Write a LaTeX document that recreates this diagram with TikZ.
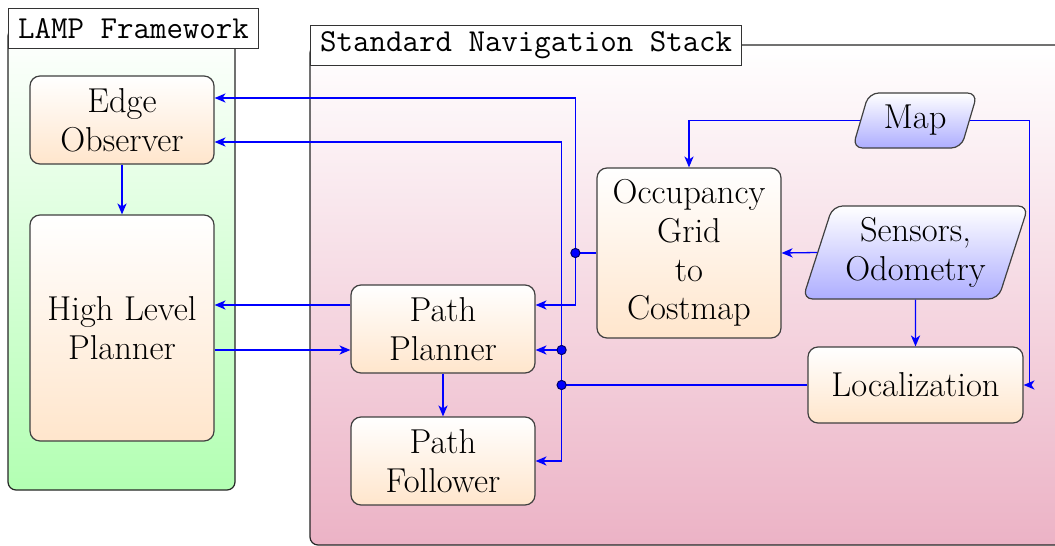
\documentclass[tikz,border=0pt]{standalone}
\usetikzlibrary{arrows.meta,shapes.geometric}
\newcommand\dgfont{\fontsize{17.28}{19.4}\selectfont}
\newcommand\dgttfont{\fontsize{16}{19.4}\selectfont\ttfamily}
\begin{document}
\begin{tikzpicture}[x=0.5pt,y=-0.5pt,
  line/.style={draw=blue, line width=0.65pt},
  conn/.style={line, -{Stealth[length=5.5pt,width=4.6pt,inset=1.6pt]}},
  frame/.style={draw=black!85, line width=0.6pt, rounded corners=4pt, top color=white},
  box/.style={draw=black!75, line width=0.6pt, rounded corners=5pt, top color=white, bottom color=orange!20,
    align=center, font=\dgfont, minimum width=92pt, minimum height=44pt, inner sep=1pt},
  io/.style={trapezium, trapezium left angle=70, trapezium right angle=110, trapezium stretches=true,
    draw=black!75, line width=0.6pt, rounded corners=5pt, top color=white, bottom color=blue!32,
    align=center, font=\dgfont, inner sep=0pt},
  title/.style={draw=black!80, fill=white, line width=0.6pt, font=\dgttfont, minimum height=20pt,
    inner ysep=0pt, inner xsep=4.8pt, anchor=north west},
  dot/.style={circle, fill=blue, draw=blue!40!black, line width=0.5pt, inner sep=0pt, minimum size=4.6pt}
]
\useasboundingbox (0,0) rectangle (1055,546);
% frames
\path[frame, bottom color=green!30] (8,28) rectangle (235,490);
\node[title] (lampt) at (8,8) {LAMP Framework};
\path[frame, bottom color=purple!30] (310,45) rectangle (1075,545);
\node[title] (stdt) at (310,25) {Standard Navigation Stack};
% nodes
\node[box] (eo) at (122,120) {Edge\\Observer};
\node[box, minimum height=113pt] (hlp) at (122,328) {High Level\\Planner};
\node[box] (pp) at (443,329) {Path\\Planner};
\node[box] (pf) at (443,461) {Path\\Follower};
\node[box, minimum height=85pt] (og) at (689,253) {Occupancy\\Grid\\to\\Costmap};
\node[box, minimum width=107.5pt, minimum height=38pt] (loc) at (915.5,385) {Localization};
\node[io, minimum width=62.5pt, minimum height=27.5pt] (map) at (915,120.5) {Map};
\node[io, minimum width=113.5pt, minimum height=46.5pt] (sen) at (915.5,252.5) {Sensors,\\Odometry};
% helper coordinates
\coordinate (a1) at ([yshift=12pt]pp.west);
\coordinate (a2) at ([yshift=-11pt]hlp.east);
\coordinate (d1) at ([xshift=-10.5pt]og.west);
\coordinate (v) at ([xshift=13pt]pp.east);
\coordinate (d2) at (v |- loc.west);
\coordinate (b1) at ([yshift=-10.5pt]pp.east);
\coordinate (d3) at (b1 -| v);
% connectors
\draw[conn] (eo.south) -- (hlp.north);
\draw[conn] (a1) -- (a1 -| hlp.east);
\draw[conn] (a2) -- (a2 -| pp.west);
\draw[conn] (pp.south) -- (pf.north);
\draw[line] (og.west) -- (d1);
\draw[conn] (d1) |- ([yshift=11pt]eo.east);
\draw[conn] (d1) |- ([yshift=12pt]pp.east);
\draw[line] (loc.west) -- (d2);
\draw[conn] (d2) |- ([yshift=-11pt]eo.east);
\draw[conn] (d2) |- (pf.east);
\draw[conn] (d3) -- (b1);
\draw[conn] (map.west) -| (og.north);
\draw[conn] (map.east) -| ([xshift=3pt]loc.east) -- (loc.east);
\draw[conn] (sen.west) -- (og.east);
\draw[conn] (sen.south) -- (loc.north);
% junction dots
\node[dot] (j1) at (d1) {};
\node[dot] (j2) at (d2) {};
\node[dot] (j3) at (d3) {};
\end{tikzpicture}
\end{document}
